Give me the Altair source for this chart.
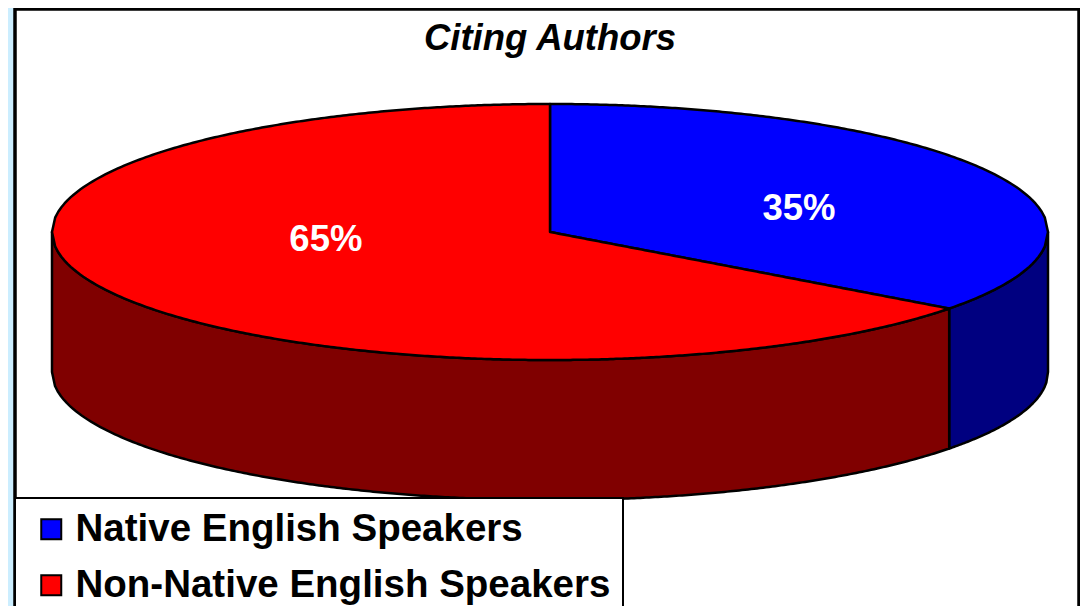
import numpy as np
import pandas as pd
import altair as alt

# --- data
categories = ["Native English Speakers", "Non-Native English Speakers"]
shares = [35.2, 64.8]
label_texts = ["35%", "65%"]
top_colors = ["#0000ff", "#ff0000"]
wall_colors = ["#000080", "#800000"]
title_text = "Citing Authors"
# label anchors, in pie units (1 = rim of the pie along that axis)
label_u = [0.50, -0.45]
label_v = [0.18, -0.06]

FONT = "Liberation Sans"
BG = "#cceeff"

# --- layout, in screenshot pixels
CX, CY, RX, RY, DEPTH = 550.0, 232.0, 498.0, 128.0, 140.0
PAGE = 8
LEFT, RIGHT, BOTTOM = 15, 1080, 606
VIEW_W, VIEW_H = RIGHT - LEFT, BOTTOM - PAGE
x_dom = [(LEFT - CX) / RX, (RIGHT - CX) / RX]
y_dom = [(CY - BOTTOM) / RY, (CY - PAGE) / RY]
wall = DEPTH / RY

# rim point where the two slices meet (clockwise from 12 o'clock)
theta = 2 * np.pi * shares[0] / sum(shares)
rim_x, rim_y = np.sin(theta), np.cos(theta)


def upper(x):
    return np.sqrt(np.clip(1 - x ** 2, 0, 1))


def wedge_rows(name, xs, top, bottom):
    return pd.DataFrame({"slice": name, "x": xs, "y": top, "y2": bottom})


# top faces
xb = np.unique(np.concatenate([np.linspace(0, 1, 160), [rim_x]]))
bottom_blue = np.where(xb <= rim_x, xb * rim_y / rim_x, -upper(xb))
blue = wedge_rows(categories[0], xb, upper(xb), bottom_blue)

xl = np.linspace(-1, 0, 160)
xr = np.linspace(1e-6, rim_x, 140)
red = wedge_rows(
    categories[1],
    np.concatenate([xl, xr]),
    np.concatenate([upper(xl), xr * rim_y / rim_x]),
    np.concatenate([-upper(xl), -upper(xr)]),
)
tops = pd.concat([blue, red], ignore_index=True)

# side walls
xw_b = np.linspace(rim_x, 1, 60)
xw_r = np.linspace(-1, rim_x, 300)
wall_blue = wedge_rows(categories[0], xw_b, -upper(xw_b), -upper(xw_b) - wall)
wall_red = wedge_rows(categories[1], xw_r, -upper(xw_r), -upper(xw_r) - wall)
walls = pd.concat([wall_blue, wall_red], ignore_index=True)

labels = pd.DataFrame({"u": label_u, "v": label_v, "text": label_texts})

X = alt.X("x:Q", axis=None, scale=alt.Scale(domain=x_dom, nice=False, zero=False))
Y = alt.Y("y:Q", axis=None, scale=alt.Scale(domain=y_dom, nice=False, zero=False))

wall_layer = alt.Chart(walls).mark_area(
    stroke="black", strokeWidth=2.5, strokeJoin="round", clip=True
).encode(
    x=X, y=Y, y2="y2:Q",
    fill=alt.Fill("slice:N", legend=None,
                  scale=alt.Scale(domain=categories, range=wall_colors)),
)

top_layer = alt.Chart(tops).mark_area(
    stroke="black", strokeWidth=2.5, strokeJoin="round", clip=True
).encode(
    x=X, y=Y, y2="y2:Q",
    color=alt.Color(
        "slice:N",
        scale=alt.Scale(domain=categories, range=top_colors),
        legend=alt.Legend(
            title=None, orient="none", legendX=0, legendY=498 - PAGE,
            fillColor="white", strokeColor="black",
            padding=12, rowPadding=17,
            symbolType="square", symbolSize=400, symbolStrokeColor="black",
            symbolStrokeWidth=2, symbolOffset=5,
            labelFont=FONT, labelFontSize=38.5, labelFontWeight="bold",
            labelColor="black", labelLimit=700, labelOffset=5,
        ),
    ),
)

label_layer = alt.Chart(labels).mark_text(
    font=FONT, fontSize=36.5, fontWeight="bold", color="white"
).encode(
    x=alt.X("u:Q", axis=None, scale=alt.Scale(domain=x_dom, nice=False, zero=False)),
    y=alt.Y("v:Q", axis=None, scale=alt.Scale(domain=y_dom, nice=False, zero=False)),
    text="text:N",
)

frame_top = alt.Chart(labels).mark_rule(color="black", strokeWidth=3).encode(
    x=alt.value(0), x2=alt.value(VIEW_W), y=alt.value(1))
frame_left = alt.Chart(labels).mark_rule(color="black", strokeWidth=3).encode(
    x=alt.value(0), y=alt.value(0), y2=alt.value(VIEW_H))
frame_right = alt.Chart(labels).mark_rule(color="black", strokeWidth=3).encode(
    x=alt.value(VIEW_W - 1), y=alt.value(0), y2=alt.value(VIEW_H))

chart = (
    alt.layer(wall_layer, top_layer, label_layer, frame_top, frame_left, frame_right)
    .resolve_scale(fill="independent", color="independent")
    .properties(
        width=VIEW_W,
        height=VIEW_H,
        background=BG,
        padding={"left": LEFT - PAGE, "right": 0, "top": 0, "bottom": 0},
        autosize=alt.AutoSizeParams(type="none", contains="content"),
        title=alt.TitleParams(
            title_text, font=FONT, fontSize=36.5, fontWeight="bold", fontStyle="italic",
            color="black", anchor="middle", offset=-51, dx=2.5,
        ),
    )
    .configure_view(fill="white", stroke=None)
    .configure_legend(strokeWidth=2)
)

chart.save("out.html", embed_options={"renderer": "svg", "actions": False})
